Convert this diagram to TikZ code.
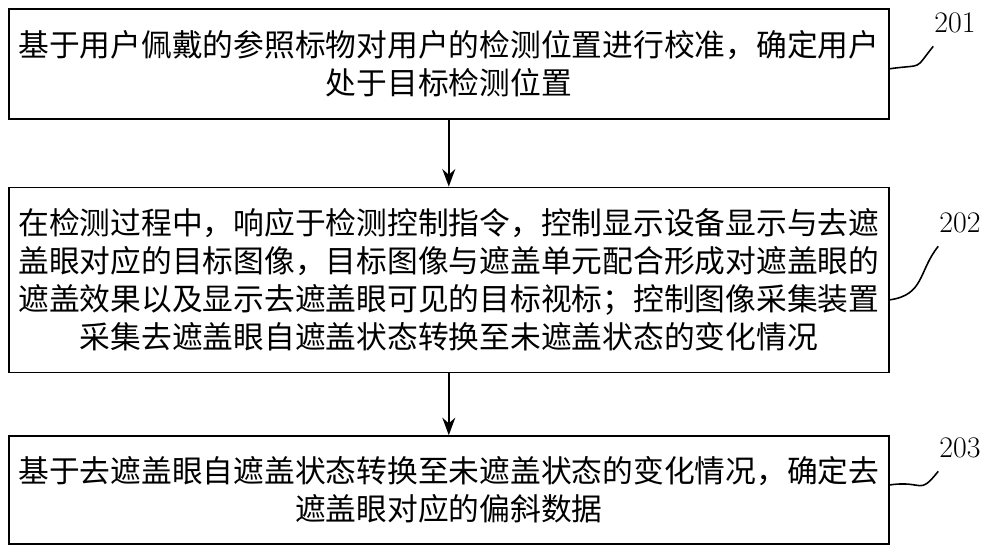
\documentclass[tikz,border=0pt]{standalone}
\usepackage{fontspec}
\newfontfamily\cjk{Noto Sans CJK SC}
\usetikzlibrary{positioning,arrows.meta}
\tikzset{
     stepbox/.style={draw, line width=0.9pt, minimum width=17.6cm, align=center,
                     font=\cjk\fontsize{17.5}{21.6}\selectfont},
     arrow/.style={-{Stealth[length=3.5mm,width=2.6mm]}, line width=0.9pt},
     leader/.style={line width=0.9pt}
     }
\begin{document}
\begin{tikzpicture}
    \useasboundingbox (0,0) rectangle (20,-11.08);
    \node [stepbox, minimum height=2.2cm, anchor=north west] at (0.16,-0.16) (s1)
        {基于用户佩戴的参照标物对用户的检测位置进行校准，确定用户\\处于目标检测位置};
    \node [stepbox, minimum height=3.7cm, below=1.34cm of s1] (s2)
        {在检测过程中，响应于检测控制指令，控制显示设备显示与去遮\\盖眼对应的目标图像，目标图像与遮盖单元配合形成对遮盖眼的\\遮盖效果以及显示去遮盖眼可见的目标视标；控制图像采集装置\\采集去遮盖眼自遮盖状态转换至未遮盖状态的变化情况};
    \node [stepbox, minimum height=2.16cm, below=1.24cm of s2] (s3)
        {基于去遮盖眼自遮盖状态转换至未遮盖状态的变化情况，确定去\\遮盖眼对应的偏斜数据};
    \node [font=\fontsize{17}{20}\selectfont] at (19.1,-0.45) (n1) {201};
    \node [font=\fontsize{17}{20}\selectfont] at (19.2,-4.45) (n2) {202};
    \node [font=\fontsize{17}{20}\selectfont] at (19.2,-8.95) (n3) {203};

    \draw [arrow] (s1) -- (s2);
    \draw [arrow] (s2) -- (s3);

    \draw [leader] ([yshift=-0.1cm]s1.east) .. controls +(0.7,0.1) and +(-0.4,-0.5) .. ([xshift=0.1cm,yshift=-0.15cm]n1.south west);
    \draw [leader] ([yshift=-0.4cm]s2.east) .. controls +(0.7,0.1) and +(-0.4,-0.5) .. ([xshift=0.1cm,yshift=-0.15cm]n2.south west);
    \draw [leader] ([yshift=0.1cm]s3.east) .. controls +(0.7,0.1) and +(-0.4,-0.5) .. ([xshift=0.1cm,yshift=-0.15cm]n3.south west);
\end{tikzpicture}
\end{document}
